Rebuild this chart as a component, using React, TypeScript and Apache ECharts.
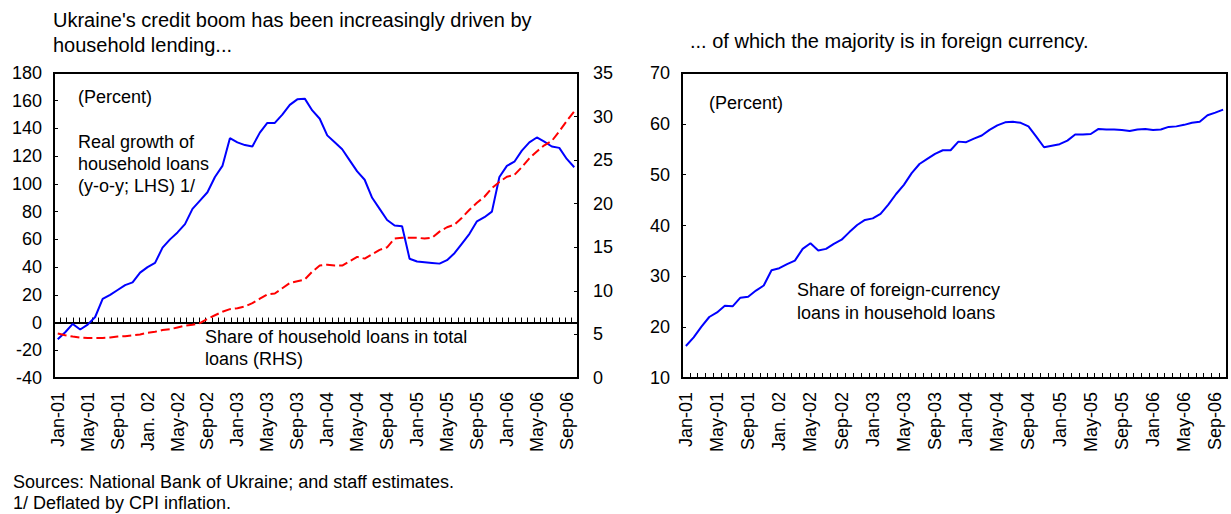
import React, { useEffect, useRef } from "react";
import * as echarts from "echarts";

const categories = [
  "Jan-01","Feb-01","Mar-01","Apr-01","May-01","Jun-01","Jul-01","Aug-01","Sep-01","Oct-01","Nov-01","Dec-01",
  "Jan. 02","Feb-02","Mar-02","Apr-02","May-02","Jun-02","Jul-02","Aug-02","Sep-02","Oct-02","Nov-02","Dec-02",
  "Jan-03","Feb-03","Mar-03","Apr-03","May-03","Jun-03","Jul-03","Aug-03","Sep-03","Oct-03","Nov-03","Dec-03",
  "Jan-04","Feb-04","Mar-04","Apr-04","May-04","Jun-04","Jul-04","Aug-04","Sep-04","Oct-04","Nov-04","Dec-04",
  "Jan-05","Feb-05","Mar-05","Apr-05","May-05","Jun-05","Jul-05","Aug-05","Sep-05","Oct-05","Nov-05","Dec-05",
  "Jan-06","Feb-06","Mar-06","Apr-06","May-06","Jun-06","Jul-06","Aug-06","Sep-06","Oct-06",
];

// Real growth of household loans (y-o-y, LHS), percent
const realGrowth = [
  -12, -7, -1, -5, -1.5, 4, 17, 20, 23.5, 27, 29, 36,
  40, 43, 54, 60, 65, 71, 82, 88, 94, 105, 113, 133,
  130, 128, 127, 137, 144, 144, 150, 157, 161, 161.5, 153, 147,
  135, 130, 125, 117, 109, 103, 90, 82, 74, 70, 69.5, 46,
  44, 43.5, 43, 42.5, 45, 50, 57, 64, 73, 76, 80, 105,
  113, 116, 124, 130, 133.5, 130.5, 127, 126, 118, 112,
];

// Share of household loans in total loans (RHS), percent
const householdShare = [
  5.1, 4.9, 4.75, 4.65, 4.6, 4.6, 4.6, 4.65, 4.75, 4.8, 4.9, 5.0,
  5.2, 5.3, 5.5, 5.6, 5.8, 6.0, 6.1, 6.3, 6.8, 7.2, 7.6, 7.9,
  8.0, 8.2, 8.6, 9.1, 9.6, 9.7, 10.3, 10.9, 11.1, 11.3, 12.2, 12.9,
  13.0, 12.9, 12.9, 13.4, 13.9, 13.7, 14.2, 14.7, 15.0, 16.0, 16.1, 16.1,
  16.1, 16.0, 16.1, 16.8, 17.3, 17.6, 18.4, 19.3, 20.1, 20.8, 21.8, 22.5,
  23.1, 23.3, 24.2, 25.2, 26.0, 26.7, 27.2, 28.3, 29.5, 30.6,
];

// Share of foreign-currency loans in household loans, percent
const fxShare = [
  16.3, 18, 20.1, 22, 22.9, 24.2, 24.1, 25.8, 26, 27.2, 28.2, 31.2,
  31.6, 32.4, 33.1, 35.4, 36.5, 35.1, 35.4, 36.4, 37.2, 38.7, 40.1, 41.1,
  41.4, 42.3, 44.1, 46.2, 48, 50.3, 52.1, 53.1, 54.1, 54.8, 54.8, 56.5,
  56.4, 57.1, 57.7, 58.8, 59.7, 60.3, 60.4, 60.2, 59.5, 57.5, 55.4, 55.7,
  56, 56.7, 57.9, 57.9, 58, 59, 58.9, 58.9, 58.8, 58.6, 58.9, 59,
  58.8, 58.9, 59.4, 59.5, 59.8, 60.2, 60.4, 61.7, 62.2, 62.8,
];

const FONT = '"Liberation Sans", Arial, sans-serif';

function txt(text: string, x: number, y: number, size = 18) {
  return {
    type: "text",
    x,
    y,
    silent: true,
    style: {
      text,
      fill: "#000",
      font: `${size}px ${FONT}`,
      verticalAlign: "middle",
      align: "left",
    },
  };
}

export default function App() {
  const ref = useRef<HTMLDivElement>(null);

  useEffect(() => {
    if (!ref.current) return;
    const chart = echarts.init(ref.current, undefined, { renderer: "svg" });

    const axisLabelStyle = { color: "#000", fontSize: 18, fontFamily: FONT };

    chart.setOption({
      animation: false,
      backgroundColor: "#fff",
      textStyle: { fontFamily: FONT },
      grid: [
        { left: 54, top: 73, width: 524, height: 305, show: true, borderColor: "#000", borderWidth: 2, backgroundColor: "transparent" },
        { left: 682, top: 73, width: 545, height: 305, show: true, borderColor: "#000", borderWidth: 2, backgroundColor: "transparent" },
      ],
      xAxis: [
        {
          type: "category",
          gridIndex: 0,
          data: categories,
          boundaryGap: true,
          position: "bottom",
          axisLine: { show: false, onZero: false },
          axisTick: { show: false },
          axisLabel: { ...axisLabelStyle, rotate: 90, interval: 3, margin: 14 },
          splitLine: { show: false },
        },
        {
          type: "value",
          gridIndex: 0,
          min: 0,
          max: 83,
          interval: 1,
          position: "bottom",
          axisLine: { show: true, onZero: true, onZeroAxisIndex: 0, lineStyle: { color: "#000", width: 2 } },
          axisTick: { show: true, inside: true, length: 5, lineStyle: { color: "#000", width: 1 } },
          axisLabel: { show: false },
          splitLine: { show: false },
        },
        {
          type: "category",
          gridIndex: 1,
          data: categories,
          boundaryGap: true,
          position: "bottom",
          axisLine: { show: false, onZero: false },
          axisTick: { show: true, inside: true, interval: 0, length: 5, lineStyle: { color: "#000", width: 1 } },
          axisLabel: { ...axisLabelStyle, rotate: 90, interval: 3, margin: 14 },
          splitLine: { show: false },
        },
      ],
      yAxis: [
        {
          type: "value",
          gridIndex: 0,
          min: -40,
          max: 180,
          interval: 20,
          position: "left",
          axisLine: { show: false },
          axisTick: { show: true, inside: true, length: 4, lineStyle: { color: "#000" } },
          axisLabel: { ...axisLabelStyle, margin: 12 },
          splitLine: { show: false },
        },
        {
          type: "value",
          gridIndex: 0,
          min: 0,
          max: 35,
          interval: 5,
          position: "right",
          axisLine: { show: false },
          axisTick: { show: true, inside: true, length: 4, lineStyle: { color: "#000" } },
          axisLabel: { ...axisLabelStyle, margin: 15 },
          splitLine: { show: false },
        },
        {
          type: "value",
          gridIndex: 1,
          min: 10,
          max: 70,
          interval: 10,
          position: "left",
          axisLine: { show: false },
          axisTick: { show: true, inside: true, length: 4, lineStyle: { color: "#000" } },
          axisLabel: { ...axisLabelStyle, margin: 12 },
          splitLine: { show: false },
        },
      ],
      series: [
        {
          type: "line",
          name: "Real growth of household loans",
          xAxisIndex: 0,
          yAxisIndex: 0,
          data: realGrowth,
          symbol: "none",
          lineStyle: { color: "#0000FF", width: 2 },
          z: 3,
        },
        {
          type: "line",
          name: "Share of household loans in total loans",
          xAxisIndex: 0,
          yAxisIndex: 1,
          data: householdShare,
          symbol: "none",
          lineStyle: { color: "#FF0000", width: 2, type: [9, 4] },
          z: 3,
        },
        {
          type: "line",
          name: "Share of foreign-currency loans in household loans",
          xAxisIndex: 2,
          yAxisIndex: 2,
          data: fxShare,
          symbol: "none",
          lineStyle: { color: "#0000FF", width: 2 },
          z: 3,
        },
      ],
      graphic: [
        txt("Ukraine's credit boom has been increasingly driven by", 53, 20, 20),
        txt("household lending...", 53, 45, 20),
        txt("... of which the majority is in foreign currency.", 690, 41, 20),
        txt("(Percent)", 78, 97),
        txt("Real growth of", 78, 142),
        txt("household loans", 78, 164),
        txt("(y-o-y; LHS) 1/", 78, 186),
        txt("Share of household loans in total", 205, 337),
        txt("loans (RHS)", 205, 359),
        txt("(Percent)", 709, 103),
        txt("Share of foreign-currency", 797, 290),
        txt("loans in household loans", 797, 313),
        txt("Sources: National Bank of Ukraine; and staff estimates.", 13, 482, 18),
        txt("1/ Deflated by CPI inflation.", 13, 503, 18),
      ],
    });

    return () => chart.dispose();
  }, []);

  return (
    <div
      ref={ref}
      style={{ position: "fixed", left: 0, top: 0, width: 1231, height: 514, background: "#fff" }}
    />
  );
}
